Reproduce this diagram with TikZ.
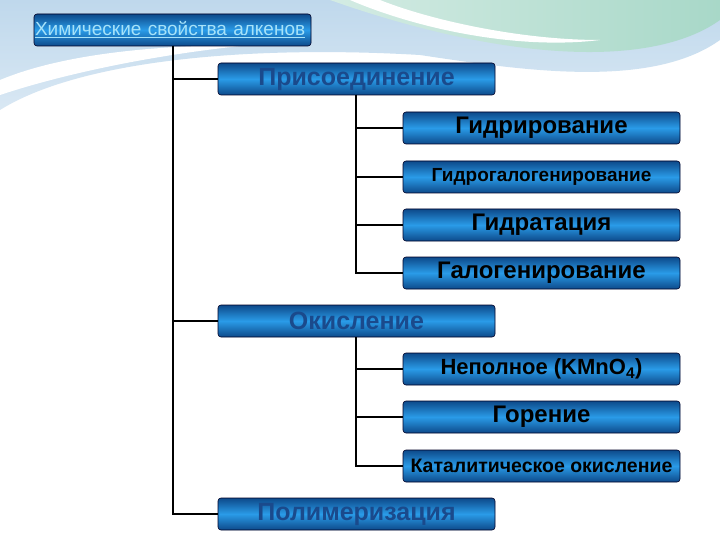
\documentclass[tikz,border=0pt]{standalone}
\usepackage{fontspec}
\setmainfont{Liberation Sans}
\begin{document}
\begin{tikzpicture}[x=1pt,y=-1pt,
  box/.style={draw=black!85!blue, line width=0.6pt, rounded corners=3pt, minimum width=277pt, minimum height=32pt, inner sep=1pt,
    top color=edge, bottom color=edge, middle color=mid},
  l1/.style={box, text=txtblue, font=\bfseries\fontsize{25}{27}\selectfont},
  l2/.style={box, text=black, font=\bfseries\fontsize{24}{26}\selectfont},
  ln/.style={line width=2pt, black}]
\definecolor{edge}{HTML}{0D4A8A}
\definecolor{mid}{HTML}{2A9BE8}
\definecolor{txtblue}{HTML}{1A4A8C}
\definecolor{bgA}{HTML}{BFD8EC}
\definecolor{bgB}{HTML}{A8D8C8}
\useasboundingbox (0,0) rectangle (720,540);
\fill[white] (0,0) rectangle (720,540);
% background waves
\shade[top color=bgA, bottom color=bgA!60!white] (0,0) -- (720,0) -- (720,40) .. controls (650,90) and (520,70) .. (420,55) .. controls (250,45) and (80,60) .. (0,110) -- cycle;
\shade[left color=bgB!50!white, right color=bgB] (330,0) -- (720,0) -- (720,20) .. controls (650,70) and (500,60) .. (330,0) -- cycle;
\fill[white] (350,0) .. controls (420,30) and (520,50) .. (600,40) .. controls (520,40) and (430,20) .. (380,0) -- cycle;
\fill[white] (0,80) .. controls (60,55) and (150,45) .. (250,45) .. controls (150,55) and (60,75) .. (0,95) -- cycle;
% boxes
\node[box, text=cyan!35!white, font=\fontsize{19}{21}\selectfont, align=left, text width=275pt] (root) at (172.5,30) {\underline{Химические свойства алкенов}};
\node[l1] (pris) at (356.5,79) {Присоединение};
\node[l2] (gidr) at (541.5,128) {Гидрирование};
\node[l2, font=\bfseries\fontsize{19}{21}\selectfont] (gidrog) at (541.5,177) {Гидрогалогенирование};
\node[l2] (gidrat) at (541.5,225) {Гидратация};
\node[l2] (galog) at (541.5,273) {Галогенирование};
\node[l1] (okis) at (356.5,321) {Окисление};
\node[l2, font=\bfseries\fontsize{22}{24}\selectfont] (nepol) at (541.5,369) {Неполное (KMnO$_{\mathbf 4}$)};
\node[l2] (gor) at (541.5,417) {Горение};
\node[l2, font=\bfseries\fontsize{19.5}{21}\selectfont] (kat) at (541.5,466) {Каталитическое окисление};
\node[l1] (polim) at (356.5,514) {Полимеризация};
% connectors
\coordinate (t1) at (173,46);
\draw[ln] (t1) |- (pris.west);
\draw[ln] (t1) |- (okis.west);
\draw[ln] (t1) |- (polim.west);
\coordinate (t2) at (356,95);
\draw[ln] (t2) |- (gidr.west);
\draw[ln] (t2) |- (gidrog.west);
\draw[ln] (t2) |- (gidrat.west);
\draw[ln] (t2) |- (galog.west);
\coordinate (t3) at (356,337);
\draw[ln] (t3) |- (nepol.west);
\draw[ln] (t3) |- (gor.west);
\draw[ln] (t3) |- (kat.west);
\end{tikzpicture}
\end{document}
